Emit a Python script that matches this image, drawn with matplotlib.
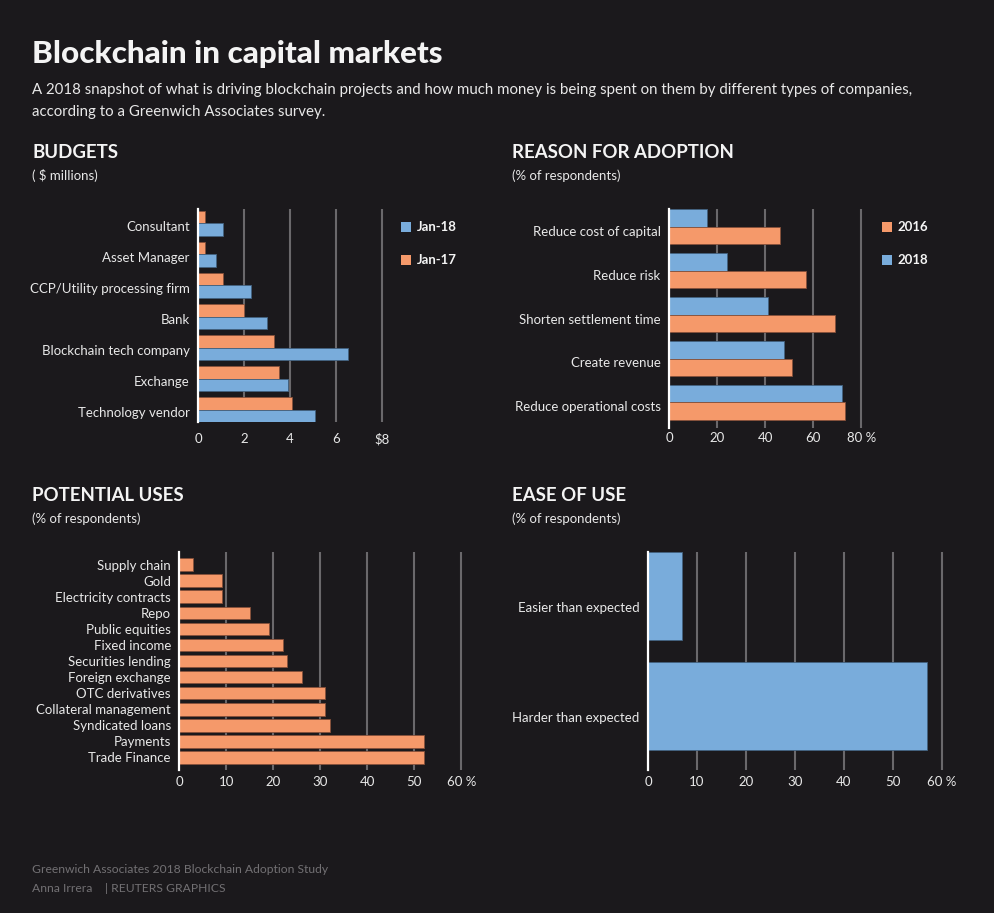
import matplotlib
matplotlib.use('Agg')
import matplotlib.pyplot as plt
from matplotlib.patches import Rectangle

# Datos
budget_cats = ['Consultant', 'Asset Manager', 'CCP/Utility processing firm', 'Bank',
               'Blockchain tech company', 'Exchange', 'Technology vendor']
budget_jan17 = [0.3, 0.3, 1.1, 2.0, 3.3, 3.5, 4.1]
budget_jan18 = [1.1, 0.8, 2.3, 3.0, 6.5, 3.9, 5.1]

reason_cats = ['Reduce cost of capital', 'Reduce risk', 'Shorten settlement time',
               'Create revenue', 'Reduce operational costs']
reason_2018 = [16, 24, 41, 48, 72]
reason_2016 = [46, 57, 69, 51, 73]

uses_cats = ['Supply chain', 'Gold', 'Electricity contracts', 'Repo', 'Public equities',
             'Fixed income', 'Securities lending', 'Foreign exchange', 'OTC derivatives',
             'Collateral management', 'Syndicated loans', 'Payments', 'Trade Finance']
uses_vals = [3, 9, 9, 15, 19, 22, 23, 26, 31, 31, 32, 52, 52]

ease_cats = ['Easier than expected', 'Harder than expected']
ease_vals = [7, 57]

W, H = 994, 913
BG = '#1b191c'
BLUE = '#79acdb'
ORANGE = '#f5996a'
BLUE_EDGE = '#42617f'
ORANGE_EDGE = '#86503a'
GRID = '#6a686b'
TXT = '#e8e8e8'
FONT = ['Lato', 'DejaVu Sans']
LBL = 9.5

plt.rcParams['font.family'] = FONT

fig = plt.figure(figsize=(W / 100, H / 100), dpi=100, facecolor=BG)


def fx(x):
    return x / W


def fy(y):
    return 1 - y / H


def make_ax(x0, x1, y0, y1):
    ax = fig.add_axes([fx(x0), fy(y1), (x1 - x0) / W, (y1 - y0) / H])
    ax.set_facecolor(BG)
    for s in ['top', 'right', 'bottom']:
        ax.spines[s].set_visible(False)
    ax.spines['left'].set_color('white')
    ax.spines['left'].set_linewidth(1.6)
    ax.spines['left'].set_zorder(5)
    ax.grid(axis='x', color=GRID, linewidth=1.5, zorder=0)
    ax.set_axisbelow(True)
    ax.tick_params(length=0, colors=TXT, labelsize=LBL)
    return ax


def square(x, y, color):
    fig.add_artist(Rectangle((fx(x), fy(y + 10)), 10 / W, 10 / H,
                             transform=fig.transFigure, facecolor=color,
                             edgecolor='none'))


# Titulos
fig.text(fx(32), fy(63), 'Blockchain in capital markets', fontsize=22.6,
         fontweight='black', color='#f4f4f4', va='baseline')
fig.text(fx(32), fy(94), 'A 2018 snapshot of what is driving blockchain projects and how much money '
         'is being spent on them by different types of companies,', fontsize=10.8,
         color=TXT, va='baseline')
fig.text(fx(32), fy(116), 'according to a Greenwich Associates survey.', fontsize=10.8,
         color=TXT, va='baseline')

for x, y, t, s in [(32, 158, 'BUDGETS', '( $ millions)'),
                   (512, 158, 'REASON FOR ADOPTION', '(% of respondents)'),
                   (32, 501, 'POTENTIAL USES', '(% of respondents)'),
                   (512, 501, 'EASE OF USE', '(% of respondents)')]:
    fig.text(fx(x), fy(y), t, fontsize=13.4, fontweight='bold', color='#f4f4f4', va='baseline')
    fig.text(fx(x), fy(y + 22), s, fontsize=9.5, color=TXT, va='baseline')

# Budgets
ax1 = make_ax(198, 198 + 23 * 8.1, 209, 422)
pos = list(range(len(budget_cats)))
ax1.barh([p - 0.2 for p in pos], budget_jan17, height=0.4, color=ORANGE,
         edgecolor=ORANGE_EDGE, linewidth=0.6, zorder=2)
ax1.barh([p + 0.2 for p in pos], budget_jan18, height=0.4, color=BLUE,
         edgecolor=BLUE_EDGE, linewidth=0.6, zorder=2)
ax1.set_xlim(0, 8.1)
ax1.set_ylim(6.4, -0.465)
ax1.set_xticks([0, 2, 4, 6, 8])
ax1.set_xticklabels(['0', '2', '4', '6', '$8'])
ax1.set_yticks([p + 0.08 for p in pos])
ax1.set_yticklabels(budget_cats)
ax1.tick_params(axis='y', pad=6)
ax1.tick_params(axis='x', pad=8)
square(401, 222, BLUE)
fig.text(fx(417), fy(227), 'Jan-18', fontsize=9.5, fontweight='bold', color='#f4f4f4', va='center')
square(401, 255, ORANGE)
fig.text(fx(417), fy(260), 'Jan-17', fontsize=9.5, fontweight='bold', color='#f4f4f4', va='center')

# Reason for adoption
ax2 = make_ax(669, 669 + 2.405 * 81, 209, 428)
pos = list(range(len(reason_cats)))
ax2.barh([p - 0.2 for p in pos], reason_2018, height=0.4, color=BLUE,
         edgecolor=BLUE_EDGE, linewidth=0.6, zorder=2)
ax2.barh([p + 0.2 for p in pos], reason_2016, height=0.4, color=ORANGE,
         edgecolor=ORANGE_EDGE, linewidth=0.6, zorder=2)
ax2.set_xlim(0, 81)
ax2.set_ylim(4.58, -0.4)
ax2.set_xticks([0, 20, 40, 60, 80])
ax2.set_xticklabels(['0', '20', '40', '60', '80 %'])
ax2.set_yticks([p + 0.09 for p in pos])
ax2.set_yticklabels(reason_cats)
ax2.tick_params(axis='y', pad=6)
ax2.tick_params(axis='x', pad=3)
square(882, 222, ORANGE)
fig.text(fx(897), fy(227), '2016', fontsize=9.5, fontweight='bold', color='#f4f4f4', va='center')
square(882, 255, BLUE)
fig.text(fx(897), fy(260), '2018', fontsize=9.5, fontweight='bold', color='#f4f4f4', va='center')

# Potential uses
ax3 = make_ax(179.3, 179.3 + 4.7 * 61, 552, 770)
pos = list(range(len(uses_cats)))
ax3.barh(pos, uses_vals, height=0.8, color=ORANGE, edgecolor=ORANGE_EDGE,
         linewidth=0.6, zorder=2)
ax3.set_xlim(0, 61)
ax3.set_ylim(12.8, -0.8)
ax3.set_xticks([0, 10, 20, 30, 40, 50, 60])
ax3.set_xticklabels(['0', '10', '20', '30', '40', '50', '60 %'])
ax3.set_yticks(pos)
ax3.set_yticklabels(uses_cats)
ax3.tick_params(axis='y', pad=6)
ax3.tick_params(axis='x', pad=4)

# Ease of use
ax4 = make_ax(648, 648 + 4.9 * 61, 552, 770)
pos = list(range(len(ease_cats)))
ax4.barh(pos, ease_vals, height=0.8, color=BLUE, edgecolor=BLUE_EDGE,
         linewidth=0.6, zorder=2)
ax4.set_xlim(0, 61)
ax4.set_ylim(1.58, -0.4)
ax4.set_xticks([0, 10, 20, 30, 40, 50, 60])
ax4.set_xticklabels(['0', '10', '20', '30', '40', '50', '60 %'])
ax4.set_yticks([p + 0.1 for p in pos])
ax4.set_yticklabels(ease_cats)
ax4.tick_params(axis='y', pad=6)
ax4.tick_params(axis='x', pad=4)

# Pie de pagina
fig.text(fx(32), fy(873), 'Greenwich Associates 2018 Blockchain Adoption Study', fontsize=8.7,
         color='#727073', va='baseline')
fig.text(fx(32), fy(892), 'Anna Irrera    | REUTERS GRAPHICS', fontsize=8.7,
         color='#727073', va='baseline')

fig.savefig('out.png', dpi=100, facecolor=BG)
